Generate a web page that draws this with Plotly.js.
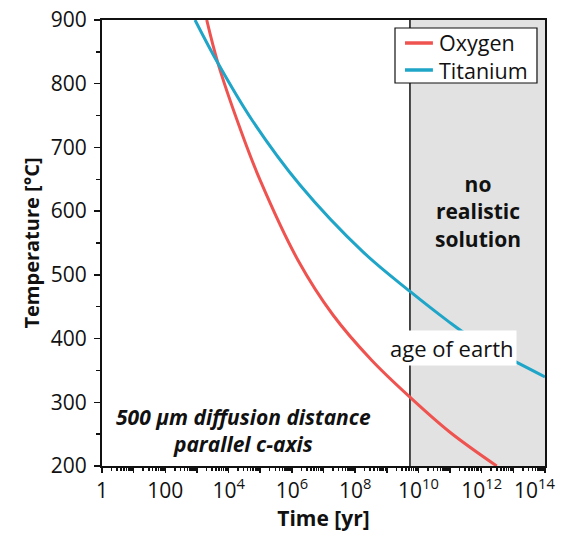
<!DOCTYPE html>
<html>
<head>
<meta charset="utf-8">
<script src="https://cdn.plot.ly/plotly-3.0.1.min.js"></script>
<style>html,body{margin:0;padding:0;background:#fff;}#chart{width:561px;height:535px;}</style>
</head>
<body>
<div id="chart"></div>
<script>
// Oxygen curve: time [yr] and temperature [°C]
const oxygenTime = [2.04e3, 4.63e3, 2.30e4, 9.84e4, 1.56e6, 2.0e7, 3.33e8, 5.70e9, 9.95e10, 2.98e12];
const oxygenTemp = [900, 832, 730, 649, 523, 437, 366, 307, 253, 200];
// Titanium curve
const titaniumTime = [8.7e2, 4.63e3, 5.5e4, 1.81e6, 1.77e8, 5.42e9, 7.82e10, 4.27e11, 1e14];
const titaniumTemp = [900, 832, 743, 641, 536, 474, 429, 403, 340];
// Age of earth / no realistic solution region
const ageOfEarth = 5.4e9;
const timeMax = 1e14;
const tempMin = 200, tempMax = 900;
// Tick labels (last label drawn separately so it stays inside the page)
const xTickVals = [1, 1e1, 1e2, 1e3, 1e4, 1e5, 1e6, 1e7, 1e8, 1e9, 1e10, 1e11, 1e12, 1e13, 1e14];
const xTickText = ['1', '', '100', '', '10<sup>4</sup>', '', '10<sup>6</sup>', '', '10<sup>8</sup>', '', '10<sup>10</sup>', '', '10<sup>12</sup>', '', ''];
const lastTickText = '10<sup>14</sup>';
const seriesNames = ['Oxygen', 'Titanium'];

const FONT = 'Open Sans, Noto Sans, sans-serif';
const RED = '#ef5350';
const TEAL = '#1ea5c8';

const minorVals = [];
for (let k = 0; k < 14; k++) for (let m = 2; m <= 9; m++) minorVals.push(m * Math.pow(10, k));

const traces = [
  {x: [ageOfEarth, timeMax, timeMax, ageOfEarth, ageOfEarth], y: [tempMin, tempMin, tempMax, tempMax, tempMin],
   mode: 'lines', fill: 'toself', fillcolor: '#e2e2e2', line: {width: 0, color: 'rgba(0,0,0,0)'},
   showlegend: false, hoverinfo: 'skip'},
  {x: [ageOfEarth, ageOfEarth], y: [tempMin, tempMax], mode: 'lines',
   line: {color: '#111', width: 1.5}, showlegend: false, hoverinfo: 'skip'},
  {x: oxygenTime, y: oxygenTemp, name: seriesNames[0], mode: 'lines', showlegend: false,
   line: {color: RED, width: 3, shape: 'spline', smoothing: 1}},
  {x: titaniumTime, y: titaniumTemp, name: seriesNames[1], mode: 'lines', showlegend: false,
   line: {color: TEAL, width: 3, shape: 'spline', smoothing: 1}}
];

// legend box (paper coordinates)
const LG = {x0: 0.6614, x1: 0.9819, y0: 0.8587, y1: 0.9821, sx0: 0.684, sx1: 0.747, tx: 0.7585, rows: [0.9484, 0.8879]};

const layout = {
  width: 561, height: 535,
  margin: {l: 102, r: 16, t: 20, b: 69},
  paper_bgcolor: '#fff', plot_bgcolor: '#fff',
  font: {family: FONT, color: '#111', size: 21},
  showlegend: false,
  xaxis: {type: 'log', range: [-0.0005, 14.0005], showgrid: false, zeroline: false,
          showline: true, linecolor: '#111', linewidth: 2, mirror: true,
          ticks: 'outside', ticklen: 5, tickwidth: 1.5, tickcolor: '#111',
          tickmode: 'array', tickvals: xTickVals, ticktext: xTickText,
          tickfont: {size: 21, family: FONT},
          minor: {tickmode: 'array', tickvals: minorVals, ticks: 'outside', ticklen: 3, tickcolor: '#111', showgrid: false},
          title: {text: '<b>Time [yr]</b>', font: {size: 21, family: FONT}, standoff: 4}},
  yaxis: {range: [tempMin, tempMax], dtick: 100, showgrid: false, zeroline: false,
          showline: true, linecolor: '#111', linewidth: 2, mirror: true,
          ticks: 'outside', ticklen: 6, tickwidth: 1.5, tickcolor: '#111',
          tickfont: {size: 21, family: FONT}, ticklabelstandoff: 3,
          minor: {dtick: 50, ticks: 'outside', ticklen: 4, tickcolor: '#111', showgrid: false},
          title: {text: '<b>Temperature [°C]</b>', font: {size: 20, family: FONT}, standoff: 6}},
  shapes: [
    {type: 'rect', xref: 'paper', yref: 'paper', x0: LG.x0, x1: LG.x1, y0: LG.y0, y1: LG.y1,
     fillcolor: '#fff', line: {color: '#111', width: 1.2}, layer: 'above'},
    {type: 'line', xref: 'paper', yref: 'paper', x0: LG.sx0, x1: LG.sx1, y0: LG.rows[0], y1: LG.rows[0],
     line: {color: RED, width: 3.5}, layer: 'above'},
    {type: 'line', xref: 'paper', yref: 'paper', x0: LG.sx0, x1: LG.sx1, y0: LG.rows[1], y1: LG.rows[1],
     line: {color: TEAL, width: 3.5}, layer: 'above'}
  ],
  annotations: [
    {xref: 'paper', yref: 'paper', x: LG.tx, y: (LG.rows[0] + LG.rows[1]) / 2, xanchor: 'left', yanchor: 'middle',
     text: seriesNames.join('<br>'), align: 'left', borderpad: 0,
     showarrow: false, font: {size: 21.5, family: FONT, color: '#111'}},
    {xref: 'paper', yref: 'paper', x: 1.028, y: 0, xanchor: 'right', yanchor: 'top', yshift: -5, text: lastTickText,
     showarrow: false, font: {size: 21, family: FONT, color: '#111'}},
    {xref: 'x', yref: 'y', x: 11.88, y: 600, text: '<b>no<br>realistic<br>solution</b>', showarrow: false,
     font: {size: 21, family: FONT, color: '#111'}, align: 'center'},
    {xref: 'x', yref: 'y', x: 11.06, y: 385, text: 'age of earth', showarrow: false,
     font: {size: 22, family: FONT, color: '#111'}, bgcolor: '#fff', borderpad: 2},
    {xref: 'x', yref: 'y', x: 4.46, y: 256, text: '<b><i>500 µm diffusion distance<br>parallel c-axis</i></b>', showarrow: false,
     font: {size: 21, family: FONT, color: '#111'}, align: 'center'}
  ]
};

Plotly.newPlot('chart', traces, layout, {displayModeBar: false, staticPlot: true});
</script>
</body>
</html>
